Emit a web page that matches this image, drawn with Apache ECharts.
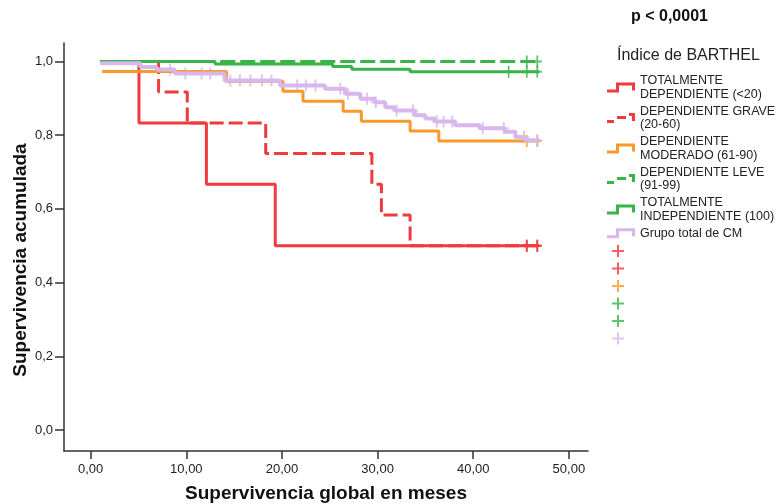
<!DOCTYPE html>
<html>
<head>
<meta charset="utf-8">
<script src="https://cdn.jsdelivr.net/npm/echarts@6/dist/echarts.min.js"></script>
<style>
  html, body { margin: 0; padding: 0; background: #fff; }
  #chart { width: 781px; height: 504px; }
</style>
</head>
<body>
<div id="chart"></div>
<script>
// Curvas de Kaplan-Meier por índice de Barthel (meses, supervivencia acumulada)
var groupNames = [
  'TOTALMENTE\nDEPENDIENTE (<20)',
  'DEPENDIENTE GRAVE\n(20-60)',
  'DEPENDIENTE\nMODERADO (61-90)',
  'DEPENDIENTE LEVE\n(91-99)',
  'TOTALMENTE\nINDEPENDIENTE (100)',
  'Grupo total de CM'
];

var totDepTimes = [1, 5.05, 12.1, 19.3, 46.9];
var totDepSurv = [1, 0.833, 0.667, 0.5, 0.5];
var totDepCens = [45.6, 46.7];

var graveTimes = [1, 7.1, 10.1, 18.3, 29.4, 30.4, 33.4, 46.9];
var graveSurv = [1, 0.917, 0.833, 0.75, 0.667, 0.583, 0.5, 0.5];
var graveCens = [45.6, 46.7];

var moderadoTimes = [1.2, 14.2, 20.1, 22.2, 26.4, 28.3, 33.4, 36.4, 46.9];
var moderadoSurv = [0.973, 0.946, 0.919, 0.892, 0.865, 0.838, 0.811, 0.784, 0.784];
var moderadoCens = [45.6, 46.7];

var leveTimes = [1, 46.9];
var leveSurv = [1, 1];
var leveCens = [45.6, 46.7];

var indepTimes = [1, 13.0, 25.3, 27.3, 33.4, 46.9];
var indepSurv = [1, 0.993, 0.986, 0.979, 0.972, 0.972];
var indepCens = [43.7, 45.6, 46.7];

var totalTimes = [1, 5.2, 6.9, 8.8, 14.0, 19.8, 24.5, 26.6, 28.2, 29.7, 30.8, 31.8, 33.9, 35.0, 36.0, 38.1, 40.7, 43.3, 44.4, 45.4, 46.9];
var totalSurv = [0.995, 0.985, 0.978, 0.967, 0.948, 0.935, 0.926, 0.912, 0.899, 0.889, 0.876, 0.867, 0.854, 0.845, 0.837, 0.827, 0.819, 0.809, 0.795, 0.786, 0.786];
var totalCens = [8.3, 9.9, 11.6, 12.5, 14.6, 15.6, 16.7, 17.9, 18.9, 21.6, 22.5, 23.5, 26.1, 26.9, 28.9, 29.8, 32.0, 33.7, 36.2, 36.9, 37.8, 41.0, 43.2, 45.3, 46.7];

var xTicks = [0, 10, 20, 30, 40, 50];
var yTicks = [0, 0.2, 0.4, 0.6, 0.8, 1.0];

var colors = ['#ef3a3e', '#ef3a3e', '#f89a2a', '#38b449', '#38b449', '#d8b7ef'];
var FONT = '"Liberation Sans", Arial, sans-serif';

var groups = [
  { t: totDepTimes, s: totDepSurv, c: totDepCens, dash: 'solid', w: 3 },
  { t: graveTimes, s: graveSurv, c: graveCens, dash: [14, 5], w: 3 },
  { t: moderadoTimes, s: moderadoSurv, c: moderadoCens, dash: 'solid', w: 3 },
  { t: leveTimes, s: leveSurv, c: leveCens, dash: [15, 5], w: 3 },
  { t: indepTimes, s: indepSurv, c: indepCens, dash: 'solid', w: 3 },
  { t: totalTimes, s: totalSurv, c: totalCens, dash: 'solid', w: 4 }
];

function survAt(times, surv, t) {
  var v = surv[0];
  for (var i = 0; i < times.length; i++) {
    if (times[i] <= t) v = surv[i];
  }
  return v;
}

var stepSolid = 'path://M0,7 H9 V0 H28 V8 H25 V3 H12 V10 H0 Z';
var stepDash = 'path://M0,7 H7 V10 H0 Z M10,3 H19 V6 H10 Z M22,0 H28 V8 H25 V3 H22 Z';
var plusIcon = 'path://M5,0 H7 V5 H12 V7 H7 V12 H5 V7 H0 V5 H5 Z';
var plusMark = 'path://M4,0 H6 V5 H10 V7 H6 V12 H4 V7 H0 V5 H4 Z';

var series = [];
var censNames = [];
groups.forEach(function (g, i) {
  series.push({
    name: groupNames[i],
    type: 'line',
    step: 'end',
    symbol: 'none',
    color: colors[i],
    lineStyle: { width: g.w, type: g.dash, color: colors[i] },
    data: g.t.map(function (t, k) { return [t, g.s[k]]; }),
    animation: false
  });
});
groups.forEach(function (g, i) {
  var nm = 'cens' + i;
  censNames.push(nm);
  series.push({
    name: nm,
    type: 'scatter',
    symbol: plusMark,
    symbolSize: i == 5 ? [10, 12] : [9, 12],
    color: colors[i],
    itemStyle: { color: colors[i] },
    data: g.c.map(function (t) { return [t, survAt(g.t, g.s, t)]; }),
    animation: false
  });
});

var chart = echarts.init(document.getElementById('chart'), null, { renderer: 'canvas' });
var option = {
  backgroundColor: '#fff',
  animation: false,
  title: [
    { text: 'p < 0,0001', left: 631, top: 9, padding: 0,
      textStyle: { fontFamily: FONT, fontSize: 16, fontWeight: 'bold', color: '#111' } },
    { text: 'Índice de BARTHEL', left: 617, top: 48, padding: 0,
      textStyle: { fontFamily: FONT, fontSize: 16, fontWeight: 'normal', color: '#222' } }
  ],
  grid: { left: 64, top: 43, width: 524, height: 408, containLabel: false, outerBoundsMode: 'none' },
  legend: [
    {
      orient: 'vertical', left: 607, top: 74, padding: 0,
      itemWidth: 28, itemHeight: 11, itemGap: 3.5,
      selectedMode: false,
      itemStyle: { borderWidth: 0 },
      textStyle: { fontFamily: FONT, fontSize: 12.5, lineHeight: 13.5, color: '#222' },
      data: groupNames.map(function (n, i) {
        return { name: n, icon: groups[i].dash === 'solid' ? stepSolid : stepDash };
      })
    },
    {
      orient: 'vertical', left: 612, top: 245, padding: 0,
      itemWidth: 12, itemHeight: 12, itemGap: 5.5,
      selectedMode: false,
      itemStyle: { borderWidth: 0 },
      formatter: function () { return ''; },
      textStyle: { fontFamily: FONT, fontSize: 12, lineHeight: 12 },
      data: censNames.map(function (n) { return { name: n, icon: plusIcon }; })
    }
  ],
  xAxis: {
    type: 'value',
    min: -2.79,
    max: 52,
    name: 'Supervivencia global en meses',
    nameLocation: 'middle',
    nameGap: 33,
    nameMoveOverlap: false,
    nameTextStyle: { fontFamily: FONT, fontSize: 19, fontWeight: 'bold', color: '#111' },
    axisLine: { onZero: false, lineStyle: { color: '#333', width: 1.5 } },
    axisTick: { customValues: xTicks, length: 8, lineStyle: { color: '#333', width: 1.5 } },
    axisLabel: {
      customValues: xTicks, margin: 12,
      fontFamily: FONT, fontSize: 13, color: '#222',
      formatter: function (v) { return v.toFixed(2).replace('.', ','); }
    },
    splitLine: { show: false }
  },
  yAxis: {
    type: 'value',
    min: -0.057,
    max: 1.05,
    name: 'Supervivencia acumulada',
    nameLocation: 'middle',
    nameGap: 34,
    nameMoveOverlap: false,
    nameTextStyle: { fontFamily: FONT, fontSize: 19, fontWeight: 'bold', color: '#111', padding: [0, 26, 0, 0] },
    axisLine: { onZero: false, lineStyle: { color: '#333', width: 1.5 } },
    axisTick: { customValues: yTicks, length: 9, lineStyle: { color: '#333', width: 1.5 } },
    axisLabel: {
      customValues: yTicks, margin: 11,
      fontFamily: FONT, fontSize: 13, color: '#222',
      formatter: function (v) { return v.toFixed(1).replace('.', ','); }
    },
    splitLine: { show: false }
  },
  series: series
};
chart.setOption(option);
</script>
</body>
</html>
